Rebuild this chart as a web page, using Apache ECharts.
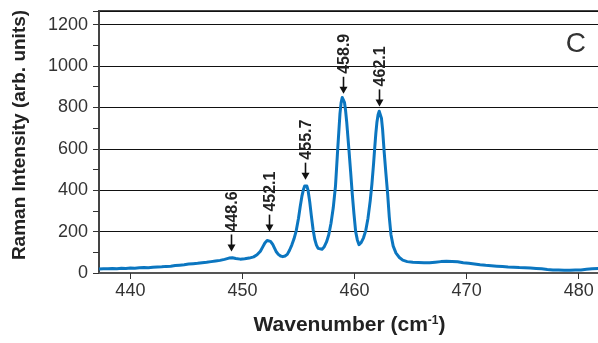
<!DOCTYPE html>
<html>
<head>
<meta charset="utf-8">
<script src="https://cdn.jsdelivr.net/npm/echarts@6/dist/echarts.min.js"></script>
<style>
  html, body { margin: 0; padding: 0; background: #fff; }
  #chart { width: 598px; height: 343px; }
</style>
</head>
<body>
<div id="chart"></div>
<script>
// spectrum (cm-1, arb. units)
const wavenumbers = [
  437.2, 437.6, 438.0, 438.4, 438.8, 439.2, 439.6, 440.0, 440.4, 440.8,
  441.2, 441.6, 442.0, 442.4, 442.8, 443.2, 443.6, 444.0, 444.4, 444.8,
  445.2, 445.6, 446.0, 446.4, 446.8, 447.2, 447.6, 448.0, 448.4, 448.8,
  449.1, 449.4, 449.8, 450.2, 450.6, 451.0, 451.3, 451.6, 451.8, 452.0,
  452.2, 452.35, 452.5, 452.7, 452.86, 453.0, 453.2, 453.4, 453.6, 453.8,
  454.0, 454.2, 454.4, 454.6, 454.8, 455.0, 455.15, 455.3, 455.45, 455.55,
  455.65, 455.75, 455.85, 456.0, 456.15, 456.3, 456.45, 456.6, 456.75, 456.9,
  457.1, 457.3, 457.5, 457.7, 457.9, 458.1, 458.3, 458.5, 458.7, 458.8,
  458.9, 459.0, 459.1, 459.2, 459.3, 459.5, 459.65, 459.8, 459.95, 460.1,
  460.25, 460.4, 460.6, 460.8, 461.0, 461.2, 461.4, 461.55, 461.7, 461.8,
  461.9, 462.0, 462.1, 462.2, 462.3, 462.4, 462.5, 462.65, 462.8, 462.95,
  463.1, 463.25, 463.45, 463.7, 464.0, 464.3, 464.7, 465.2, 465.7, 466.2,
  466.7, 467.2, 467.7, 468.2, 468.7, 469.2, 469.7, 470.2, 470.7, 471.2,
  471.7, 472.2, 472.7, 473.2, 473.7, 474.2, 474.7, 475.2, 475.7, 476.2,
  476.7, 477.2, 477.7, 478.2, 478.7, 479.2, 479.7, 480.2, 480.7, 481.2,
  481.9
];
const intensities = [
  19, 21, 20, 22, 21, 23, 22, 24, 23, 25,
  26, 25, 28, 29, 30, 32, 33, 36, 38, 40,
  43, 45, 47, 50, 52, 55, 58, 61, 66, 72,
  74, 70, 67, 69, 72, 78, 88, 105, 125, 145,
  157, 159, 153, 138, 120, 104, 90, 82, 79, 82,
  90, 110, 135, 165, 205, 265, 320, 370, 405, 420,
  426, 420, 400, 345, 275, 210, 163, 135, 119, 112,
  115, 127, 150, 185, 240, 315, 420, 600, 770, 822,
  848, 848, 825, 785, 730, 595, 490, 380, 285, 200,
  160, 137, 148, 170, 205, 265, 350, 430, 530, 605,
  675, 730, 765, 782, 777, 748, 695, 580, 480, 385,
  270, 185, 130, 96, 75, 62, 55, 52, 51, 50,
  49, 52, 55, 57, 56, 54, 50, 47, 44, 40,
  37, 35, 33, 31, 29, 28, 26, 25, 24, 22,
  20, 17, 15, 14, 13, 13, 14, 15, 18, 20,
  22
];

const xTicks = [440, 450, 460, 470, 480];

// peak markers: label, arrow position, arrow tip height
const peakLabels = ['448.6', '452.1', '455.7', '458.9', '462.1'];
const peakX = [448.95, 452.4, 455.6, 458.95, 462.2];
const peakTip = [104, 200, 451, 866, 805];

const FONT = '"Liberation Sans", Arial, sans-serif';

const chart = echarts.init(document.getElementById('chart'));

const option = {
  animation: false,
  backgroundColor: '#fff',
  title: {
    text: 'C',
    right: 12,
    top: 30,
    padding: 0,
    textStyle: { fontSize: 28, fontWeight: 'normal', fontFamily: FONT, color: '#333' }
  },
  grid: {
    left: 99,
    right: -2,
    top: 11,
    bottom: 70,
    show: true,
    borderColor: '#444',
    borderWidth: 2,
    outerBoundsMode: 'none'
  },
  xAxis: {
    type: 'value',
    min: 437.2,
    max: 481.9,
    axisLine: { onZero: false, lineStyle: { color: '#555', width: 2 } },
    axisTick: { show: true, customValues: xTicks, length: 6, lineStyle: { color: '#333' } },
    axisLabel: { customValues: xTicks, fontSize: 18, color: '#333', margin: 9, fontFamily: FONT },
    splitLine: { show: false },
    name: 'Wavenumber (cm{sup|-1})',
    nameLocation: 'middle',
    nameGap: 42,
    nameTextStyle: {
      fontSize: 21,
      fontWeight: 'bold',
      color: '#222',
      fontFamily: FONT,
      rich: {
        sup: { fontSize: 12, fontWeight: 'bold', color: '#222', fontFamily: FONT, padding: [0, 0, 9, 0] }
      }
    }
  },
  yAxis: {
    type: 'value',
    min: 0,
    max: 1266,
    interval: 200,
    axisLine: { show: true, lineStyle: { color: '#444', width: 2 } },
    axisTick: { show: true, length: 6, lineStyle: { color: '#333' } },
    minorTick: { show: true, splitNumber: 2, length: 6, lineStyle: { color: '#333' } },
    splitLine: { show: true, lineStyle: { color: '#111', width: 1 } },
    axisLabel: {
      fontSize: 18, color: '#333', margin: 11, showMaxLabel: false, fontFamily: FONT,
      formatter: function (v) { return String(v); }
    },
    name: 'Raman Intensity (arb. units)',
    nameLocation: 'middle',
    nameGap: 70,
    nameTextStyle: { fontSize: 19, fontWeight: 'bold', color: '#222', fontFamily: FONT, padding: [0, 0, 0, 14] }
  },
  series: [
    {
      type: 'line',
      data: wavenumbers.map((w, i) => [w, intensities[i]]),
      showSymbol: false,
      smooth: false,
      lineStyle: { color: '#0b76c0', width: 3, join: 'round' },
      z: 2
    },
    {
      type: 'custom',
      data: peakX.map((x, i) => [x, peakTip[i]]),
      z: 3,
      renderItem: function (params, api) {
        const p = api.coord([api.value(0), api.value(1)]);
        const x = Math.round(p[0]) + 0.5;
        const y = p[1];
        return {
          type: 'group',
          children: [
            {
              type: 'line',
              shape: { x1: x, y1: y - 17, x2: x, y2: y - 5 },
              style: { stroke: '#111', lineWidth: 1.6 }
            },
            {
              type: 'polygon',
              shape: { points: [[x - 4, y - 7], [x + 4, y - 7], [x, y]] },
              style: { fill: '#111' }
            },
            {
              type: 'text',
              x: x + 1,
              y: y - 20,
              rotation: Math.PI / 2,
              style: {
                text: peakLabels[params.dataIndex],
                font: 'bold 16px ' + FONT,
                fill: '#222',
                align: 'left',
                verticalAlign: 'middle'
              }
            }
          ]
        };
      }
    }
  ]
};

chart.setOption(option);
</script>
</body>
</html>
